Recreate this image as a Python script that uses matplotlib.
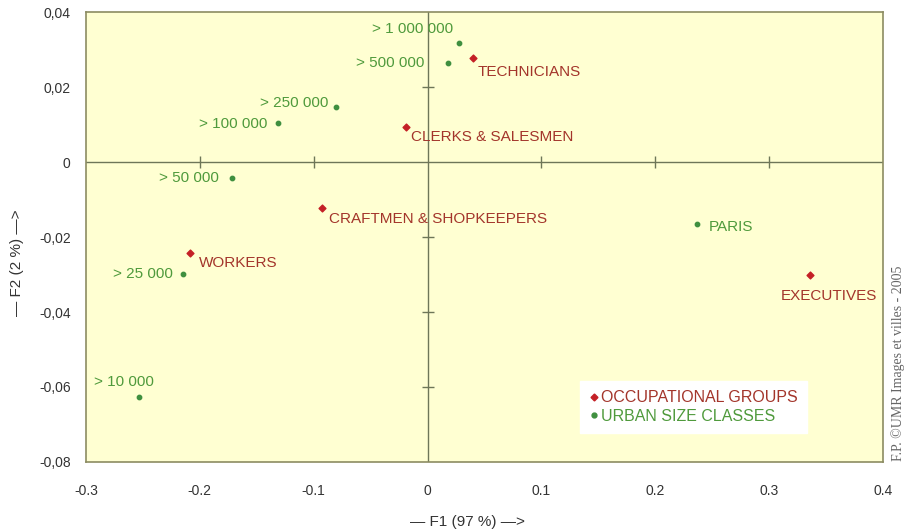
import matplotlib
matplotlib.use('Agg')
import matplotlib.pyplot as plt
from matplotlib.lines import Line2D

plt.rcParams['font.family'] = ['Liberation Sans', 'DejaVu Sans']

# occupational groups (red)
occ_names = ['TECHNICIANS', 'CLERKS & SALESMEN', 'CRAFTMEN & SHOPKEEPERS', 'WORKERS', 'EXECUTIVES']
occ_f1 = [0.0395, -0.0193, -0.0923, -0.209, 0.3357]
occ_f2 = [0.0277, 0.0093, -0.0123, -0.0243, -0.0301]

# urban size classes (green)
urb_names = ['> 1 000 000', '> 500 000', '> 250 000', '> 100 000', '> 50 000',
             '> 25 000', '> 10 000', 'PARIS']
urb_f1 = [0.0272, 0.0176, -0.080, -0.131, -0.172, -0.215, -0.253, 0.237]
urb_f2 = [0.0317, 0.0264, 0.0147, 0.0104, -0.0043, -0.0299, -0.0627, -0.0165]

xticks = [-0.3, -0.2, -0.1, 0, 0.1, 0.2, 0.3, 0.4]
xtick_labels = ['-0.3', '-0.2', '-0.1', '0', '0.1', '0.2', '0.3', '0.4']
yticks = [0.04, 0.02, 0, -0.02, -0.04, -0.06, -0.08]
ytick_labels = ['0,04', '0,02', '0', '-0,02', '-0,04', '-0,06', '-0,08']

RED_TXT = '#a3352b'
RED_PT = '#c42026'
GREEN_TXT = '#4f9a3c'
GREEN_PT = '#3f8f3f'
FRAME = '#8c8c62'
AXIS = '#6e7658'
FS = 11

fig = plt.figure(figsize=(9.06, 5.32), dpi=100)
ax = fig.add_axes([0.0949, 0.1316, 0.8797, 0.8458])
ax.set_facecolor('#ffffd2')
ax.set_xlim(-0.3, 0.4)
ax.set_ylim(-0.08, 0.04)

for s in ax.spines.values():
    s.set_color(FRAME)
    s.set_linewidth(1.2)

ax.set_xticks(xticks)
ax.set_xticklabels(xtick_labels)
ax.set_yticks(yticks)
ax.set_yticklabels(ytick_labels)
ax.tick_params(axis='both', length=0, labelsize=10, colors='#333333')
ax.tick_params(axis='x', pad=16)
ax.tick_params(axis='y', pad=11)

# axes through the origin with small cross ticks
ax.axhline(0, color=AXIS, lw=1, zorder=1)
ax.axvline(0, color=AXIS, lw=1, zorder=1)
xt_inner = [t for t in xticks[1:-1] if t != 0]
yt_inner = [t for t in yticks[1:-1] if t != 0]
ax.plot(xt_inner, [0] * len(xt_inner), ls='none', marker='|', ms=8,
        mew=1, color=AXIS, zorder=1)
ax.plot([0] * len(yt_inner), yt_inner, ls='none', marker='_', ms=8,
        mew=1, color=AXIS, zorder=1)

ax.scatter(urb_f1, urb_f2, s=10, marker='o', color=GREEN_PT, zorder=3)
ax.scatter(occ_f1, occ_f2, s=12, marker='D', color=RED_PT, zorder=3)

# label offsets in points
urb_off = [(-4, 10, 'right'), (-17, 0, 'right'), (-6, 3, 'right'), (-8, -1, 'right'),
           (-9, 0, 'right'), (-7, 0, 'right'), (-11, 11, 'center'), (8, -2, 'left')]
occ_off = [(4, -10, 'left'), (4, -7, 'left'), (5, -8, 'left'), (7, -7, 'left'),
           (14, -15, 'center')]

for name, x, y, (dx, dy, ha) in zip(urb_names, urb_f1, urb_f2, urb_off):
    ax.annotate(name, (x, y), xytext=(dx, dy), textcoords='offset points',
                ha=ha, va='center', fontsize=FS, color=GREEN_TXT, zorder=4)
for name, x, y, (dx, dy, ha) in zip(occ_names, occ_f1, occ_f2, occ_off):
    ax.annotate(name, (x, y), xytext=(dx, dy), textcoords='offset points',
                ha=ha, va='center', fontsize=FS, color=RED_TXT, zorder=4)

handles = [Line2D([], [], ls='none', marker='D', ms=3.5, color=RED_PT),
           Line2D([], [], ls='none', marker='o', ms=3.5, color=GREEN_PT)]
leg = ax.legend(handles, ['OCCUPATIONAL GROUPS', 'URBAN SIZE CLASSES'],
                loc='lower left', bbox_to_anchor=(0.62, 0.064), fontsize=11.5,
                frameon=True, fancybox=False, framealpha=1, edgecolor='white',
                facecolor='white', handlelength=0.5, handletextpad=0.2,
                borderpad=0.6, labelspacing=0.2, borderaxespad=0,
                labelcolor=[RED_TXT, GREEN_TXT])

fig.text(0.478 * 0.8797 + 0.0949, 1 - 522 / 532, '\u2014 F1 (97 %) \u2014>',
         ha='center', va='center', fontsize=11, color='#333333')
fig.text(17 / 906, 1 - 263 / 532, '\u2014 F2 (2 %) \u2014>', rotation=90,
         ha='center', va='center', fontsize=11, color='#333333')
fig.text(898 / 906, 1 - 363 / 532, 'F.P. \u00a9UMR Images et villes - 2005',
         rotation=90, ha='center', va='center', fontsize=10, color='#666666',
         family=['Liberation Serif', 'DejaVu Serif'])

fig.savefig('out.png', dpi=100)
